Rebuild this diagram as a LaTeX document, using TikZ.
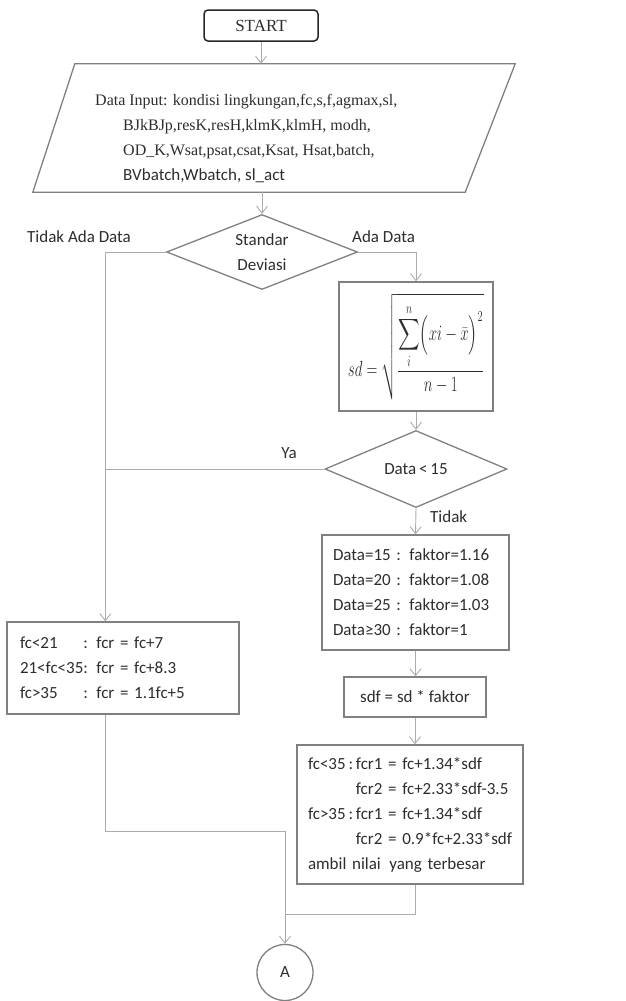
\documentclass[tikz,border=0pt]{standalone}
\usepackage{exscale}
\usepackage{graphicx}
\usepackage{fontspec}
\setmainfont{Liberation Serif}
\newfontfamily\calib{Carlito}
\usetikzlibrary{shapes.geometric,arrows.meta,calc}
\definecolor{linegray}{RGB}{172,172,172}
\definecolor{boxgray}{RGB}{128,128,128}
\definecolor{ink}{RGB}{45,45,45}
\begin{document}
\begin{tikzpicture}[x=1pt,y=-1pt,
  every node/.style={text=ink},
  sans/.style={font=\calib\fontsize{17}{25}\selectfont},
  box/.style={draw=boxgray, line width=1.3pt, rectangle, inner sep=0pt, sans},
  leftbox/.style={box, align=left, inner xsep=#1},
  decision/.style={draw=boxgray, line width=1.3pt, diamond, shape aspect=2.5,
    inner sep=0pt, align=center, sans},
  conn/.style={draw=linegray, line width=0.9pt},
  arr/.style={conn, -{Straight Barb[length=7pt,width=11pt]}},
  lbl/.style={sans, inner sep=0pt}]
\useasboundingbox (0,0) rectangle (625,1001);

% start terminal
\node[draw=black!85, line width=1.5pt, rounded corners=4pt, minimum width=114,
  minimum height=31, inner sep=0pt, font=\fontsize{17}{20}\selectfont]
  (start) at (261,25.5) {START};

% input parallelogram
\node[minimum width=482, minimum height=128, inner sep=0pt] (input) at (274,128) {};
\draw[draw=boxgray, line width=1.3pt] ($(input.north west)+(42,0)$) -- (input.north east)
  -- ($(input.south east)+(-50,0)$) -- (input.south west) -- cycle;
\node[anchor=base west, inner sep=0pt, align=left, font=\fontsize{16}{25}\selectfont]
  (inputtxt) at (95,105)
  {\begin{tabular}[t]{@{}l@{}}
   Data Input: kondisi lingkungan,fc,s,f,agmax,sl,\\
   \hspace{28pt}BJkBJp,resK,resH,klmK,klmH, modh,\\
   \hspace{28pt}OD\_K,Wsat,psat,csat,Ksat, Hsat,batch,\\
   \hspace{28pt}{\calib\fontsize{17}{25}\selectfont BVbatch,Wbatch, sl\_act}
   \end{tabular}};

% decision on the standard deviation
\node[decision, minimum width=191, minimum height=75] (d1) at (262,252) {Standar\\Deviasi};
\node[lbl, anchor=west] (lno) at (27,237) {Tidak Ada Data};
\node[lbl, anchor=west] (lyes) at (352,237) {Ada Data};

% standard deviation formula
\node[box, minimum width=154, minimum height=129] (sd) at (416,346.5)
  {\resizebox*{136pt}{106pt}{\fontsize{20}{24}\selectfont
   $\displaystyle sd=\sqrt{\frac{\displaystyle\sum_{i}^{n}\Bigl(xi-\bar{x}\Bigr)^{2}}{n-1}}$}};

% decision on the number of data
\node[decision, minimum width=182, minimum height=77] (d2) at (416,469) {Data\,{<}\,15};
\node[lbl] (lya) at (289,453) {Ya};
\node[lbl, anchor=west] (ltidak) at (430,517) {Tidak};

% factor table
\node[leftbox=11pt, minimum width=187, minimum height=115, text width=165] (fak) at (415.5,592.5)
  {\begin{tabular}{@{}l@{\ }l@{}}
   Data=15 & : faktor=1.16\\
   Data=20 & : faktor=1.08\\
   Data=25 & : faktor=1.03\\
   Data≥30 & : faktor=1
   \end{tabular}};

\node[box, minimum width=142, minimum height=40] (sdf) at (415,697) {sdf = sd * faktor};

\node[leftbox=11pt, minimum width=226, minimum height=139, text width=204] (fcr1) at (410,814.5)
  {\begin{tabular}{@{}l@{\,}l@{}}
   fc<35\,: & fcr1 = fc+1.34*sdf\\
            & fcr2 = fc+2.33*sdf-3.5\\
   fc>35\,: & fcr1 = fc+1.34*sdf\\
            & fcr2 = 0.9*fc+2.33*sdf\\
   \multicolumn{2}{@{}l@{}}{ambil nilai\, yang terbesar}
   \end{tabular}};

% required strength without data
\node[leftbox=13pt, minimum width=232, minimum height=92, text width=206] (fcr) at (123,668)
  {\begin{tabular}{@{}l@{}l@{}}
   fc<21 & : fcr = fc+7\\
   21<fc<35 & : fcr = fc+8.3\\
   fc>35 & : fcr = 1.1fc+5
   \end{tabular}};

% connector to the next page
\node[draw=boxgray, line width=1.3pt, circle, minimum size=56, inner sep=0pt, sans] (A) at (285,972.5) {A};

\coordinate (fcrtop) at ($(fcr.north west)+(99,0)$);
\coordinate (fcrbot) at ($(fcr.south west)+(99,0)$);
\coordinate (join) at (285,831);
\coordinate (merge) at (285,914);

\draw[arr] (start.south) -- (start.south |- input.north);
\draw[arr] (d1.north |- input.south) -- (d1.north);
\draw[arr] (d1.west) -| (fcrtop);
\draw[arr] (d1.east) -| (sd.north);
\draw[arr] (sd.south) -- (d2.north);
\draw[conn] (d2.west) -- (d2.west -| fcrtop);
\draw[arr] (d2.south) -- (fak.north);
\draw[arr] (fak.south) -- (fak.south |- sdf.north);
\draw[arr] (sdf.south) -- (sdf.south |- fcr1.north);
\draw[arr] (fcrbot) |- (join) -- (A.north);
\draw[conn] (sdf.south |- fcr1.south) |- (merge);
\end{tikzpicture}
\end{document}
